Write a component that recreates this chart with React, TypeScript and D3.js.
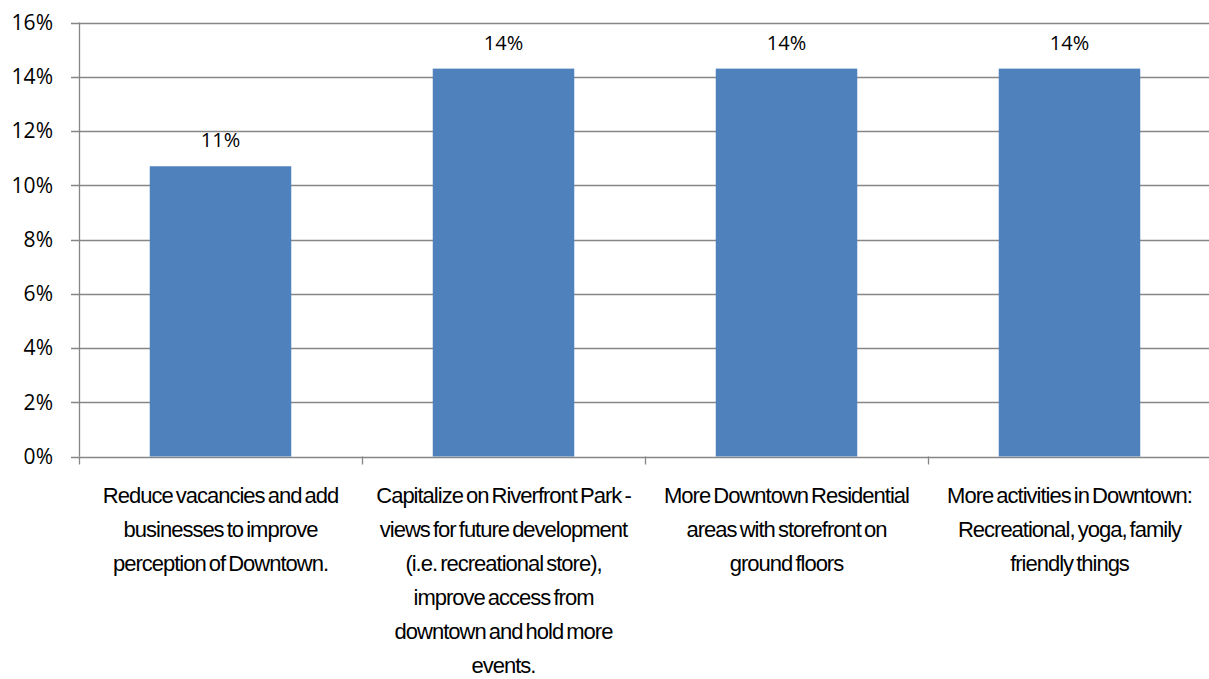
import React from "react";
import * as d3 from "d3";

const categories: string[][] = [
  ["Reduce vacancies and add", "businesses to improve", "perception of Downtown."],
  ["Capitalize on Riverfront Park -", "views for future development", "(i.e. recreational store),", "improve access from", "downtown and hold more", "events."],
  ["More Downtown Residential", "areas with storefront on", "ground floors"],
  ["More activities in Downtown:", "Recreational, yoga, family", "friendly things"],
];
const values: number[] = [10.7, 14.3, 14.3, 14.3];
const dataLabels: string[] = ["11%", "14%", "14%", "14%"];
const yTicks: number[] = [0, 2, 4, 6, 8, 10, 12, 14, 16];

const W = 1209;
const H = 679;
const left = 79;
const right = 1211;
const top = 22.5;
const bottom = 456.5;

export default function App() {
  const x = d3
    .scaleBand<number>()
    .domain(categories.map((_, i) => i))
    .range([left, right])
    .paddingInner(0.5)
    .paddingOuter(0.25);
  const xb = d3.scaleBand<number>().domain(categories.map((_, i) => i)).range([left, right]);
  const y = d3.scaleLinear().domain([0, 16]).range([bottom, top]);
  const font = "'Liberation Sans', Arial, sans-serif";
  const grid = "#868686";
  return (
    <svg width={W} height={H} style={{ position: "absolute", left: 0, top: 0, background: "#fff" }}>
      {yTicks.map((t) => (
        <g key={t}>
          <line x1={71} x2={W} y1={Math.round(y(t)) + 0.5} y2={Math.round(y(t)) + 0.5} stroke={grid} strokeWidth={1.3} />
          <text x={53} y={y(t)} dy="0.35em" textAnchor="end" fontFamily="'Open Sans', 'Noto Sans', sans-serif" fontSize={21} fill="#000">
            {t}%
          </text>
        </g>
      ))}
      {values.map((v, i) => (
        <g key={i}>
          <rect x={x(i)} y={y(v)} width={x.bandwidth()} height={bottom - y(v)} fill="#4F81BD" />
          <text x={(x(i) as number) + x.bandwidth() / 2} y={y(v) - 26} dy="0.35em" textAnchor="middle" fontFamily="'Open Sans', 'Noto Sans', sans-serif" fontSize={20} fill="#000">
            {dataLabels[i]}
          </text>
        </g>
      ))}
      <line x1={left + 0.5} x2={left + 0.5} y1={top} y2={bottom} stroke={grid} strokeWidth={1.3} />
      {categories.map((_, i) => (
        <line key={"t" + i} x1={Math.round(xb(i) as number) + 0.5} x2={Math.round(xb(i) as number) + 0.5} y1={bottom} y2={bottom + 8} stroke={grid} strokeWidth={1.3} />
      ))}
      <line x1={right - 0.5} x2={right - 0.5} y1={bottom} y2={bottom + 8} stroke={grid} strokeWidth={1.3} />
      {categories.map((lines, i) => (
        <text key={"c" + i} textAnchor="middle" fontFamily={font} fontSize={22} letterSpacing={-1} wordSpacing={-2} fill="#000">
          {lines.map((ln, j) => (
            <tspan key={j} x={(xb(i) as number) + xb.bandwidth() / 2} y={495 + j * 34} dy="0.35em">
              {ln}
            </tspan>
          ))}
        </text>
      ))}
    </svg>
  );
}
